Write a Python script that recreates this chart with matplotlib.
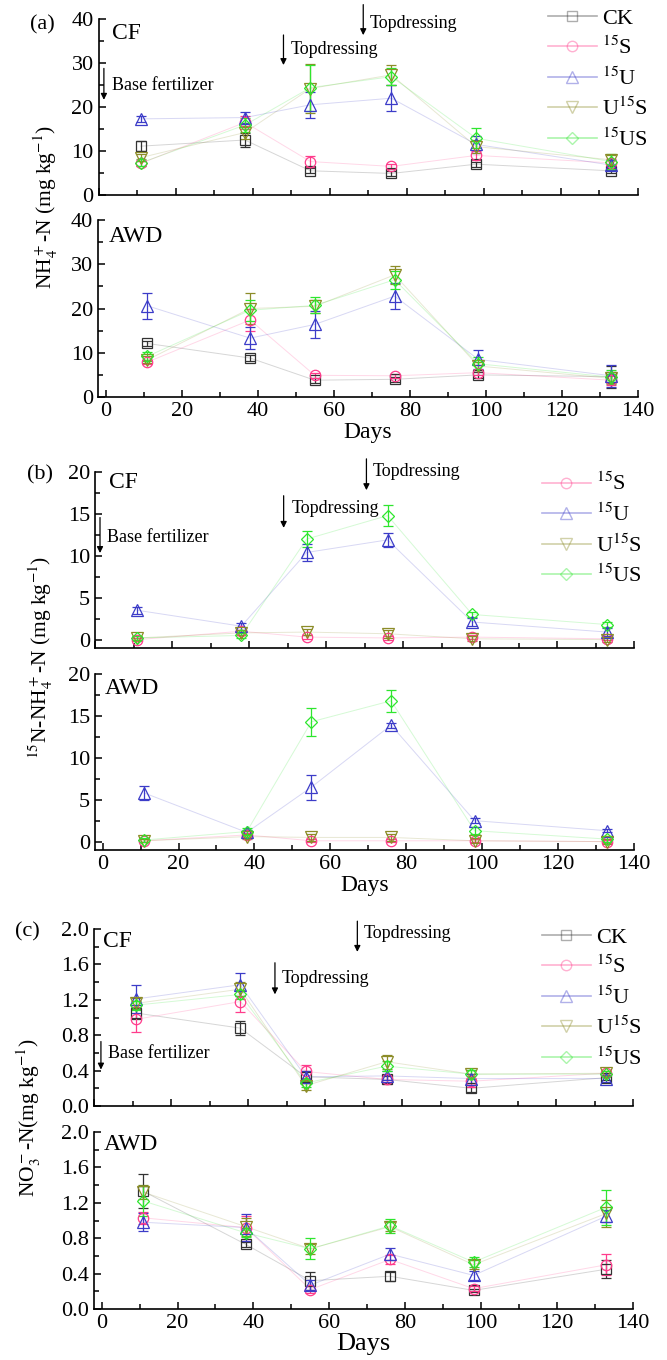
import matplotlib
matplotlib.use("Agg")
import matplotlib.pyplot as plt
from matplotlib.lines import Line2D
from matplotlib.ticker import MultipleLocator

plt.rcParams['font.family'] = ['Liberation Serif', 'DejaVu Serif']
plt.rcParams['mathtext.fontset'] = 'stix'

# sampling days
days = [11, 38, 55, 76, 98, 133]

# (a) NH4+-N, CF
a_cf_ck = [11.1, 12.5, 5.5, 4.9, 7.0, 5.5]
a_cf_ck_err = [1.2, 1.5, 0.6, 0.6, 0.6, 0.6]
a_cf_s = [7.2, 16.5, 7.6, 6.5, 9.0, 7.3]
a_cf_s_err = [0.5, 1.5, 1.2, 0.6, 1.0, 0.8]
a_cf_u = [17.3, 17.6, 20.5, 22.0, 11.5, 6.8]
a_cf_u_err = [0.6, 1.3, 3.0, 3.0, 2.0, 1.2]
a_cf_us15 = [8.5, 14.2, 24.2, 27.3, 11.0, 8.0]
a_cf_us15_err = [0.8, 1.5, 5.5, 2.3, 1.5, 1.2]
a_cf_15us = [7.3, 15.9, 24.4, 26.9, 12.9, 7.6]
a_cf_15us_err = [0.8, 1.5, 5.2, 2.0, 2.3, 1.8]

# (a) NH4+-N, AWD
a_awd_ck = [12.1, 8.8, 3.8, 4.0, 5.0, 4.6]
a_awd_ck_err = [0.6, 0.6, 0.6, 0.5, 0.6, 2.5]
a_awd_s = [7.9, 17.4, 4.9, 4.8, 5.5, 3.8]
a_awd_s_err = [0.5, 2.5, 0.5, 0.5, 0.6, 1.0]
a_awd_u = [20.6, 13.3, 16.4, 22.8, 8.5, 4.8]
a_awd_u_err = [3.0, 2.5, 3.0, 3.0, 2.2, 2.5]
a_awd_us15 = [8.4, 20.0, 20.5, 27.6, 7.0, 4.2]
a_awd_us15_err = [0.8, 3.4, 1.5, 2.0, 1.0, 1.0]
a_awd_15us = [9.2, 19.6, 20.7, 26.5, 7.5, 4.5]
a_awd_15us_err = [1.0, 2.4, 1.8, 2.0, 1.5, 1.5]

# (b) 15N-NH4+-N, CF
b_cf_s = [0.0, 1.0, 0.3, 0.2, 0.3, 0.1]
b_cf_s_err = [0.2, 0.2, 0.2, 0.2, 0.2, 0.2]
b_cf_u = [3.5, 1.6, 10.4, 11.9, 2.1, 0.9]
b_cf_u_err = [0.4, 0.4, 1.0, 0.8, 0.5, 0.5]
b_cf_us15 = [0.2, 0.8, 0.9, 0.7, 0.1, 0.0]
b_cf_us15_err = [0.2, 0.3, 0.4, 0.5, 0.3, 0.3]
b_cf_15us = [0.2, 0.5, 12.0, 14.8, 3.0, 1.8]
b_cf_15us_err = [0.2, 0.3, 1.0, 1.3, 0.3, 0.3]

# (b) 15N-NH4+-N, AWD
b_awd_s = [0.1, 0.8, 0.1, 0.1, 0.1, 0.0]
b_awd_s_err = [0.2, 0.2, 0.2, 0.2, 0.2, 0.2]
b_awd_u = [5.8, 1.1, 6.5, 13.9, 2.5, 1.3]
b_awd_u_err = [0.8, 0.3, 1.5, 0.3, 0.3, 0.2]
b_awd_us15 = [0.1, 0.6, 0.5, 0.5, 0.1, 0.0]
b_awd_us15_err = [0.2, 0.3, 0.4, 0.4, 0.3, 0.3]
b_awd_15us = [0.2, 1.2, 14.3, 16.8, 1.3, 0.3]
b_awd_15us_err = [0.2, 0.4, 1.7, 1.3, 0.4, 0.4]

# (c) NO3--N, CF
c_cf_ck = [1.05, 0.88, 0.33, 0.30, 0.20, 0.32]
c_cf_ck_err = [0.07, 0.08, 0.07, 0.04, 0.04, 0.03]
c_cf_s = [0.98, 1.18, 0.39, 0.30, 0.28, 0.37]
c_cf_s_err = [0.14, 0.12, 0.07, 0.05, 0.06, 0.03]
c_cf_u = [1.21, 1.37, 0.33, 0.34, 0.31, 0.31]
c_cf_u_err = [0.16, 0.13, 0.06, 0.05, 0.05, 0.04]
c_cf_us15 = [1.16, 1.32, 0.23, 0.50, 0.36, 0.37]
c_cf_us15_err = [0.06, 0.08, 0.05, 0.08, 0.05, 0.03]
c_cf_15us = [1.14, 1.26, 0.26, 0.45, 0.36, 0.36]
c_cf_15us_err = [0.05, 0.05, 0.04, 0.06, 0.05, 0.03]

# (c) NO3--N, AWD
c_awd_ck = [1.33, 0.73, 0.32, 0.37, 0.21, 0.45]
c_awd_ck_err = [0.19, 0.03, 0.10, 0.05, 0.02, 0.10]
c_awd_s = [1.03, 0.92, 0.22, 0.56, 0.23, 0.50]
c_awd_s_err = [0.07, 0.13, 0.04, 0.05, 0.03, 0.12]
c_awd_u = [0.98, 0.92, 0.27, 0.62, 0.38, 1.05]
c_awd_u_err = [0.10, 0.15, 0.06, 0.07, 0.05, 0.07]
c_awd_us15 = [1.32, 0.93, 0.68, 0.93, 0.50, 1.08]
c_awd_us15_err = [0.08, 0.10, 0.06, 0.05, 0.05, 0.15]
c_awd_15us = [1.22, 0.86, 0.68, 0.94, 0.53, 1.15]
c_awd_15us_err = [0.17, 0.05, 0.12, 0.08, 0.06, 0.20]

labels = ['CK', r'$^{15}$S', r'$^{15}$U', r'U$^{15}$S', r'$^{15}$US']
colors = ['#333333', '#FF3C8C', '#3C3CC8', '#8C8C28', '#2EE62E']
markers = ['s', 'o', '^', 'v', 'D']
sizes = [6.5, 7.5, 8, 8, 6.5]


def draw(ax, series, errs, idx):
    for v, e, i in zip(series, errs, idx):
        ax.plot(days, v, color=colors[i], lw=0.7, alpha=0.2)
        ax.errorbar(days, v, yerr=e, fmt=markers[i], ms=sizes[i], mfc='none',
                    mec=colors[i], mew=0.9, ecolor=colors[i], elinewidth=0.9,
                    capsize=3.5, capthick=0.9, linestyle='none')


def style(ax, xmin, ymin, ymax, ymaj, ymin_loc, fmt=None, xlabels=True):
    ax.set_xlim(xmin, 140)
    ax.set_ylim(ymin, ymax)
    ax.spines['top'].set_visible(False)
    ax.spines['right'].set_visible(False)
    for s in ['left', 'bottom']:
        ax.spines[s].set_linewidth(1.2)
    ax.xaxis.set_major_locator(MultipleLocator(20))
    ax.xaxis.set_minor_locator(MultipleLocator(10))
    ax.yaxis.set_major_locator(MultipleLocator(ymaj))
    ax.yaxis.set_minor_locator(MultipleLocator(ymin_loc))
    ax.tick_params(which='both', direction='in', width=1.1, labelsize=16)
    ax.tick_params(which='major', length=5)
    ax.tick_params(which='minor', length=3.5)
    if fmt:
        ax.yaxis.set_major_formatter(plt.FormatStrFormatter(fmt))
    if not xlabels:
        ax.tick_params(axis='x', labelbottom=False)


def arrow(ax, x, y0, y1, txt, tx, ty):
    ax.annotate('', xy=(x, y1), xytext=(x, y0), annotation_clip=False,
                arrowprops=dict(arrowstyle='-|>', color='k', lw=0.9, mutation_scale=9))
    ax.text(tx, ty, txt, fontsize=13, va='center', ha='left')


def legend(fig, idx, x, y):
    h = [Line2D([], [], color=colors[i], marker=markers[i], mfc='none', ms=sizes[i],
                mec=colors[i], lw=1.2) for i in idx]
    leg = fig.legend(h, [labels[i] for i in idx], loc='upper left', bbox_to_anchor=(x, y),
                     frameon=False, fontsize=16, handlelength=2.2, labelspacing=0.36,
                     handletextpad=0.25, borderaxespad=0, borderpad=0)
    for line in leg.get_lines():
        line.set_alpha(0.4)
    return leg


W, H = 667, 1360
fig = plt.figure(figsize=(W / 100, H / 100), dpi=100)


def add_ax(left, right, top, bottom):
    return fig.add_axes([left / W, 1 - bottom / H, (right - left) / W, (bottom - top) / H])


all5 = [0, 1, 2, 3, 4]
no_ck = [1, 2, 3, 4]

# ---- (a)
ax1 = add_ax(98.5, 638, 19, 195)
draw(ax1, [a_cf_ck, a_cf_s, a_cf_u, a_cf_us15, a_cf_15us],
     [a_cf_ck_err, a_cf_s_err, a_cf_u_err, a_cf_us15_err, a_cf_15us_err], all5)
style(ax1, 0, 0, 40, 10, 5, xlabels=False)
ax1.text(0.025, 0.92, 'CF', transform=ax1.transAxes, fontsize=17, va='center')
arrow(ax1, 1.4, 29.4, 21, 'Base fertilizer', 3.5, 25)
arrow(ax1, 48, 37, 28.9, 'Topdressing', 50, 33)
arrow(ax1, 68.7, 43.9, 35.7, 'Topdressing', 70.5, 39)

ax2 = add_ax(98, 638, 220, 397)
draw(ax2, [a_awd_ck, a_awd_s, a_awd_u, a_awd_us15, a_awd_15us],
     [a_awd_ck_err, a_awd_s_err, a_awd_u_err, a_awd_us15_err, a_awd_15us_err], all5)
style(ax2, -2, 0, 40, 10, 5)
ax2.text(0.02, 0.905, 'AWD', transform=ax2.transAxes, fontsize=17, va='center')
ax2.set_xlabel('Days', fontsize=17, labelpad=1)
legend(fig, all5, 548 / W, 1 - 8 / H)
fig.text(42 / W, 1 - 25 / H, '(a)', fontsize=16, ha='center', va='center')
fig.text(46 / W, 1 - 207 / H, r'NH$_4^+$-N (mg kg$^{-1}$)', fontsize=15.5,
         rotation=90, ha='center', va='center')

# ---- (b)
ax3 = add_ax(95, 634, 472, 648)
draw(ax3, [b_cf_s, b_cf_u, b_cf_us15, b_cf_15us],
     [b_cf_s_err, b_cf_u_err, b_cf_us15_err, b_cf_15us_err], no_ck)
style(ax3, 0, -1, 20, 5, 2.5, xlabels=False)
ax3.text(0.026, 0.943, 'CF', transform=ax3.transAxes, fontsize=17, va='center')
arrow(ax3, 1.3, 14.9, 10.0, 'Base fertilizer', 3.1, 12.2)
arrow(ax3, 49, 17.5, 13, 'Topdressing', 51, 15.7)
arrow(ax3, 70.5, 21.9, 17.5, 'Topdressing', 72, 20)

ax4 = add_ax(95, 634, 674, 850)
draw(ax4, [b_awd_s, b_awd_u, b_awd_us15, b_awd_15us],
     [b_awd_s_err, b_awd_u_err, b_awd_us15_err, b_awd_15us_err], no_ck)
style(ax4, -2, -1, 20, 5, 2.5)
ax4.text(0.019, 0.915, 'AWD', transform=ax4.transAxes, fontsize=17, va='center')
ax4.set_xlabel('Days', fontsize=17, labelpad=1)
legend(fig, no_ck, 542 / W, 1 - 473 / H)
fig.text(40 / W, 1 - 475 / H, '(b)', fontsize=16, ha='center', va='center')
fig.text(41 / W, 1 - 657 / H, r'$^{15}$N-NH$_4^+$-N (mg kg$^{-1}$)', fontsize=15.5,
         rotation=90, ha='center', va='center')

# ---- (c)
ax5 = add_ax(94, 633, 929, 1106)
draw(ax5, [c_cf_ck, c_cf_s, c_cf_u, c_cf_us15, c_cf_15us],
     [c_cf_ck_err, c_cf_s_err, c_cf_u_err, c_cf_us15_err, c_cf_15us_err], all5)
style(ax5, 0, 0, 2.0, 0.4, 0.2, fmt='%.1f', xlabels=False)
ax5.text(0.017, 0.927, 'CF', transform=ax5.transAxes, fontsize=17, va='center')
arrow(ax5, 1.8, 0.76, 0.38, 'Base fertilizer', 3.7, 0.59)
arrow(ax5, 47, 1.65, 1.23, 'Topdressing', 48.7, 1.44)
arrow(ax5, 68.4, 2.12, 1.71, 'Topdressing', 70, 1.95)

ax6 = add_ax(94, 633, 1132, 1309)
draw(ax6, [c_awd_ck, c_awd_s, c_awd_u, c_awd_us15, c_awd_15us],
     [c_awd_ck_err, c_awd_s_err, c_awd_u_err, c_awd_us15_err, c_awd_15us_err], all5)
style(ax6, -2, 0, 2.0, 0.4, 0.2, fmt='%.1f')
ax6.text(0.019, 0.927, 'AWD', transform=ax6.transAxes, fontsize=17, va='center')
ax6.set_xlabel('Days', fontsize=19, labelpad=0)
legend(fig, all5, 542 / W, 1 - 927 / H)
fig.text(27 / W, 1 - 932 / H, '(c)', fontsize=16, ha='center', va='center')
fig.text(29 / W, 1 - 1118 / H, r'NO$_3^-$-N(mg kg$^{-1}$)', fontsize=15.5,
         rotation=90, ha='center', va='center')

fig.savefig('out.png', dpi=100)
